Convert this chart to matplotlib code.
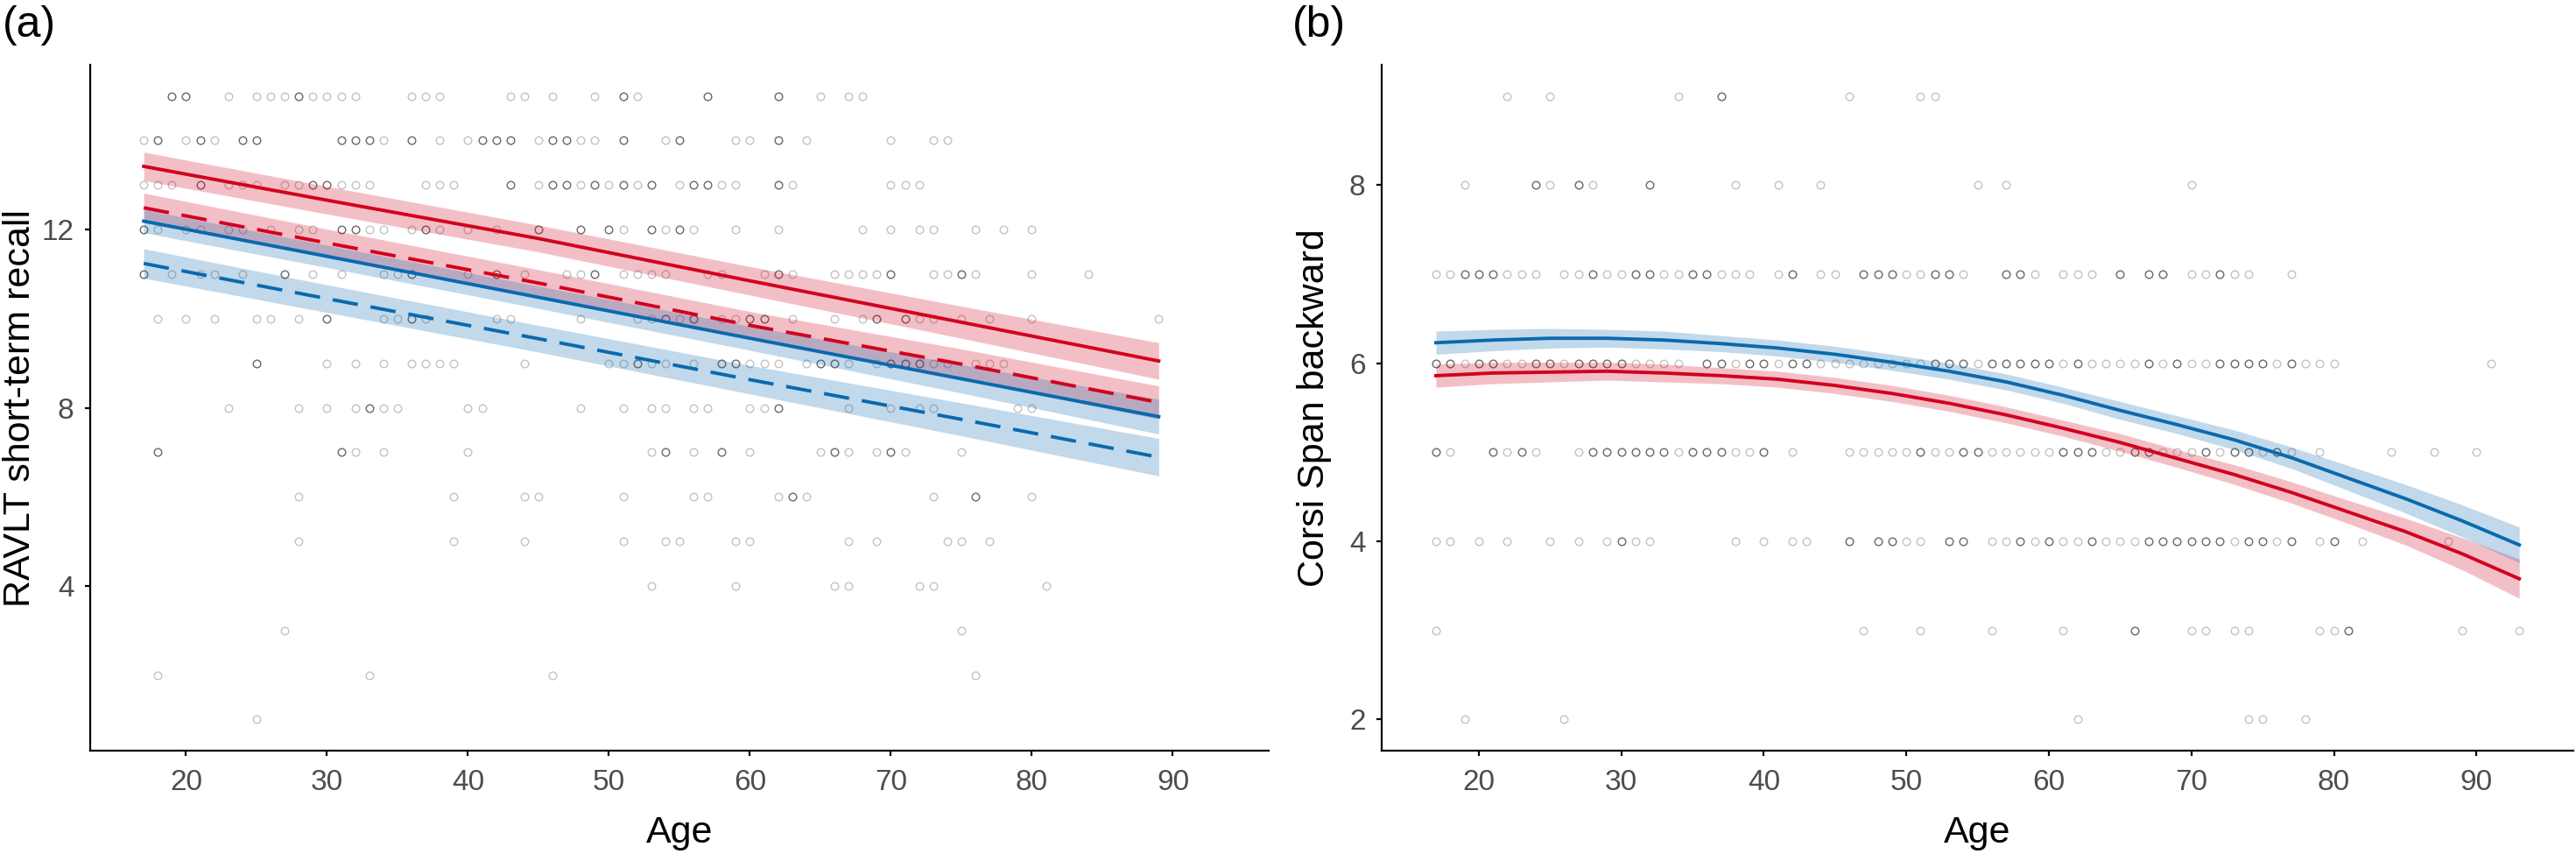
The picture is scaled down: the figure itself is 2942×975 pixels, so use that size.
import numpy as np
import matplotlib
matplotlib.use('Agg')
import matplotlib.pyplot as plt

plt.rcParams['font.family'] = ['Liberation Sans', 'DejaVu Sans']

RED = '#d2001e'
BLUE = '#0a69af'
PT_ALPHA = 0.24

# ---- panel (a): RAVLT short-term recall, one list per score (ages), dark = overlapping ----
ravlt_15 = [19, 20, 23, 25, 26, 27, 28, 29, 30, 31, 32, 36, 37, 38, 43, 44, 46, 49, 51, 52, 57, 62, 65, 67, 68]
ravlt_15_dark = [19, 20, 28, 51, 57, 62]
ravlt_14 = [17, 18, 20, 21, 22, 24, 25, 31, 32, 33, 34, 36, 38, 40, 41, 42, 43, 45, 46, 47, 48, 49, 51, 54, 55,
            59, 60, 62, 64, 70, 73, 74]
ravlt_14_dark = [18, 21, 24, 25, 31, 32, 33, 36, 41, 42, 43, 46, 47, 51, 55, 62]
ravlt_13 = [17, 18, 19, 21, 23, 24, 25, 27, 28, 29, 30, 31, 32, 33, 37, 38, 39, 43, 45, 46, 47, 48, 49, 50, 51,
            52, 53, 55, 56, 57, 58, 59, 62, 63, 70, 71, 72]
ravlt_13_dark = [21, 29, 30, 43, 46, 47, 49, 51, 53, 56, 57, 62]
ravlt_12 = [17, 18, 20, 21, 23, 24, 26, 28, 29, 31, 32, 33, 34, 36, 37, 38, 40, 42, 45, 48, 50, 51, 53, 54, 55,
            56, 59, 62, 68, 70, 72, 73, 76, 78, 80]
ravlt_12_dark = [17, 31, 32, 37, 45, 48, 50, 53, 55]
ravlt_11 = [17, 19, 21, 22, 24, 27, 29, 31, 34, 35, 36, 40, 42, 44, 47, 48, 49, 51, 52, 53, 54, 57, 58, 61, 62,
            63, 66, 67, 68, 69, 70, 73, 74, 75, 76, 80, 84]
ravlt_11_dark = [17, 27, 36, 42, 49, 62, 70, 75]
ravlt_10 = [18, 20, 22, 25, 26, 28, 30, 34, 35, 36, 37, 42, 43, 48, 52, 53, 54, 55, 56, 58, 59, 60, 61, 63, 66,
            68, 69, 71, 72, 73, 75, 77, 80, 89]
ravlt_10_dark = [30, 36, 54, 56, 60, 61, 69, 71]
ravlt_9 = [25, 30, 32, 34, 36, 37, 38, 39, 44, 50, 51, 52, 53, 54, 56, 58, 59, 60, 61, 62, 64, 65, 66, 67, 69,
           70, 71, 72, 73, 74, 76, 77, 78]
ravlt_9_dark = [25, 52, 58, 59, 65, 66, 70, 71, 72]
ravlt_8 = [23, 28, 30, 32, 33, 34, 35, 40, 41, 48, 51, 53, 54, 56, 57, 60, 61, 62, 67, 70, 72, 73, 79, 80]
ravlt_8_dark = [33, 62]
ravlt_7 = [18, 31, 32, 34, 40, 53, 54, 56, 58, 60, 65, 66, 67, 69, 70, 71, 75]
ravlt_7_dark = [18, 31, 54, 58, 66, 70]
ravlt_6 = [28, 39, 44, 45, 51, 56, 57, 62, 63, 64, 73, 76, 80]
ravlt_6_dark = [63, 76]
ravlt_5 = [28, 39, 44, 51, 54, 55, 59, 60, 67, 69, 74, 75, 77]
ravlt_4 = [53, 59, 66, 67, 72, 73, 81]
ravlt_3 = [27, 75]
ravlt_2 = [18, 33, 46, 76]
ravlt_1 = [25]

# fitted lines for panel (a), read at these ages
fit_age_a = [17, 30, 45, 60, 75, 89]
red_solid_a = [13.42, 12.66, 11.80, 10.85, 9.92, 9.05]
red_solid_a_ci = [0.32, 0.31, 0.30, 0.32, 0.36, 0.41]
red_dash_a = [12.49, 11.70, 10.80, 9.85, 8.98, 8.12]
red_dash_a_ci = [0.33, 0.31, 0.30, 0.31, 0.34, 0.37]
blue_solid_a = [12.19, 11.40, 10.48, 9.56, 8.65, 7.80]
blue_solid_a_ci = [0.26, 0.25, 0.25, 0.27, 0.32, 0.39]
blue_dash_a = [11.24, 10.45, 9.55, 8.63, 7.74, 6.89]
blue_dash_a_ci = [0.33, 0.31, 0.30, 0.32, 0.37, 0.42]

# ---- panel (b): Corsi Span backward ----
corsi_9 = [22, 25, 34, 37, 46, 51, 52]
corsi_9_dark = [37]
corsi_8 = [19, 24, 25, 27, 28, 32, 38, 41, 44, 55, 57, 70]
corsi_8_dark = [24, 27, 32]
corsi_7 = [17, 18, 19, 20, 21, 22, 23, 24, 26, 27, 28, 29, 30, 31, 32, 33, 34, 35, 36, 37, 38, 39, 41, 42, 44,
           45, 47, 48, 49, 50, 51, 52, 53, 54, 57, 58, 59, 61, 62, 63, 65, 67, 68, 70, 71, 72, 73, 74, 77]
corsi_7_dark = [19, 20, 21, 28, 31, 32, 35, 36, 42, 47, 48, 49, 52, 53, 57, 58, 65, 67, 68, 72]
corsi_6 = [17, 18, 19, 20, 21, 22, 23, 24, 25, 26, 27, 28, 29, 30, 31, 32, 33, 34, 36, 37, 38, 39, 40, 41, 42,
           43, 44, 45, 46, 47, 48, 49, 50, 51, 52, 53, 54, 55, 56, 57, 58, 59, 60, 61, 62, 63, 64, 65, 66, 67,
           68, 69, 70, 71, 72, 73, 74, 75, 76, 77, 78, 79, 80, 91]
corsi_6_dark = [17, 18, 20, 21, 24, 25, 27, 28, 29, 30, 36, 37, 39, 40, 42, 43, 52, 53, 54, 56, 57, 58, 59, 60,
                62, 67, 69, 72, 73, 74, 75, 77]
corsi_5 = [17, 18, 21, 22, 23, 24, 27, 28, 29, 30, 31, 32, 33, 34, 35, 36, 37, 38, 39, 40, 42, 46, 47, 48, 49,
           50, 51, 52, 53, 54, 55, 56, 57, 58, 59, 60, 61, 62, 63, 64, 65, 66, 67, 68, 69, 70, 71, 72, 73, 74,
           75, 76, 77, 79, 84, 87, 90]
corsi_5_dark = [17, 21, 23, 28, 29, 30, 31, 32, 33, 35, 36, 37, 40, 51, 54, 55, 61, 62, 63, 66, 67, 71, 73, 74,
                76]
corsi_4 = [17, 18, 20, 22, 25, 27, 29, 30, 31, 32, 38, 40, 42, 43, 46, 48, 49, 50, 51, 53, 54, 56, 57, 58, 59,
           60, 61, 62, 63, 64, 65, 66, 67, 68, 69, 70, 71, 72, 73, 74, 75, 76, 77, 79, 80, 82, 88]
corsi_4_dark = [30, 46, 48, 49, 53, 54, 58, 60, 63, 67, 68, 69, 70, 71, 72, 74, 75, 77, 80]
corsi_3 = [17, 47, 51, 56, 61, 66, 70, 71, 73, 74, 79, 80, 81, 89, 93]
corsi_3_dark = [66, 81]
corsi_2 = [19, 26, 62, 74, 75, 78]

fit_age_b = [17, 21, 25, 29, 33, 37, 41, 45, 49, 53, 57, 61, 65, 69, 73, 77, 81, 85, 89, 93]
blue_b = [6.23, 6.26, 6.28, 6.28, 6.26, 6.22, 6.17, 6.10, 6.01, 5.91, 5.79, 5.64, 5.47, 5.31, 5.14, 4.94,
          4.71, 4.48, 4.23, 3.96]
blue_b_ci = [0.13, 0.12, 0.11, 0.10, 0.10, 0.09, 0.09, 0.09, 0.09, 0.09, 0.09, 0.09, 0.10, 0.10, 0.11, 0.12,
             0.14, 0.16, 0.18, 0.20]
red_b = [5.86, 5.89, 5.90, 5.91, 5.89, 5.86, 5.82, 5.75, 5.66, 5.55, 5.42, 5.27, 5.11, 4.93, 4.75, 4.55,
         4.33, 4.11, 3.86, 3.58]
red_b_ci = [0.13, 0.12, 0.11, 0.10, 0.10, 0.09, 0.09, 0.09, 0.09, 0.09, 0.09, 0.09, 0.10, 0.10, 0.11, 0.12,
            0.13, 0.15, 0.18, 0.22]


def draw_points(ax, rows):
    for score, ages, dark in rows:
        # dark circles are where several subjects overlap
        xs = list(ages) + list(dark) * 2
        ax.plot(xs, [score] * len(xs), linestyle='none', marker='o', markersize=6.2,
                markerfacecolor='none', markeredgecolor='black', markeredgewidth=1.0,
                alpha=PT_ALPHA, zorder=1)


def draw_fit(ax, ages, mid, ci, color, dashed=False):
    mid = np.asarray(mid)
    ci = np.asarray(ci)
    ax.fill_between(ages, mid - ci, mid + ci, color=color, alpha=0.25, linewidth=0, zorder=2)
    ls = (0, (7.5, 3.8)) if dashed else '-'
    ax.plot(ages, mid, color=color, linewidth=2.8, linestyle=ls, zorder=3)


def style_axis(ax, ylabel, yticks, ylim, label_x):
    ax.set_xlim(13.2, 96.8)
    ax.set_ylim(*ylim)
    ax.set_xticks([20, 30, 40, 50, 60, 70, 80, 90])
    ax.set_yticks(yticks)
    for s in ['top', 'right']:
        ax.spines[s].set_visible(False)
    for s in ['left', 'bottom']:
        ax.spines[s].set_linewidth(1.6)
    ax.tick_params(axis='both', length=4.3, width=1.6, labelsize=24, labelcolor='#4d4d4d', color='black')
    ax.tick_params(axis='x', pad=11)
    ax.tick_params(axis='y', pad=9)
    ax.set_xlabel('Age', fontsize=31)
    ax.set_ylabel(ylabel, fontsize=31)
    ax.xaxis.set_label_coords(0.5, -0.094)
    ax.yaxis.set_label_coords(label_x, 0.5)


fig = plt.figure(figsize=(29.42, 9.75), dpi=100)
ax_a = fig.add_axes([0.0350, 0.1210, 0.4575, 0.8031])
ax_b = fig.add_axes([0.5364, 0.1210, 0.4626, 0.8031])

rows_a = [
    (15, ravlt_15, ravlt_15_dark), (14, ravlt_14, ravlt_14_dark), (13, ravlt_13, ravlt_13_dark),
    (12, ravlt_12, ravlt_12_dark), (11, ravlt_11, ravlt_11_dark), (10, ravlt_10, ravlt_10_dark),
    (9, ravlt_9, ravlt_9_dark), (8, ravlt_8, ravlt_8_dark), (7, ravlt_7, ravlt_7_dark),
    (6, ravlt_6, ravlt_6_dark), (5, ravlt_5, []), (4, ravlt_4, []), (3, ravlt_3, []),
    (2, ravlt_2, []), (1, ravlt_1, []),
]
draw_points(ax_a, rows_a)
draw_fit(ax_a, fit_age_a, red_solid_a, red_solid_a_ci, RED)
draw_fit(ax_a, fit_age_a, red_dash_a, red_dash_a_ci, RED, dashed=True)
draw_fit(ax_a, fit_age_a, blue_solid_a, blue_solid_a_ci, BLUE)
draw_fit(ax_a, fit_age_a, blue_dash_a, blue_dash_a_ci, BLUE, dashed=True)
style_axis(ax_a, 'RAVLT short-term recall', [4, 8, 12], (0.3, 15.7), -0.0446)

rows_b = [
    (9, corsi_9, corsi_9_dark), (8, corsi_8, corsi_8_dark), (7, corsi_7, corsi_7_dark),
    (6, corsi_6, corsi_6_dark), (5, corsi_5, corsi_5_dark), (4, corsi_4, corsi_4_dark),
    (3, corsi_3, corsi_3_dark), (2, corsi_2, []),
]
draw_points(ax_b, rows_b)
draw_fit(ax_b, fit_age_b, red_b, red_b_ci, RED)
draw_fit(ax_b, fit_age_b, blue_b, blue_b_ci, BLUE)
style_axis(ax_b, 'Corsi Span backward', [2, 4, 6, 8], (1.65, 9.35), -0.0419)

fig.text(0.001, 0.957, '(a)', fontsize=36, ha='left', va='baseline')
fig.text(0.5017, 0.957, '(b)', fontsize=36, ha='left', va='baseline')

fig.savefig('out.png', dpi=100)
